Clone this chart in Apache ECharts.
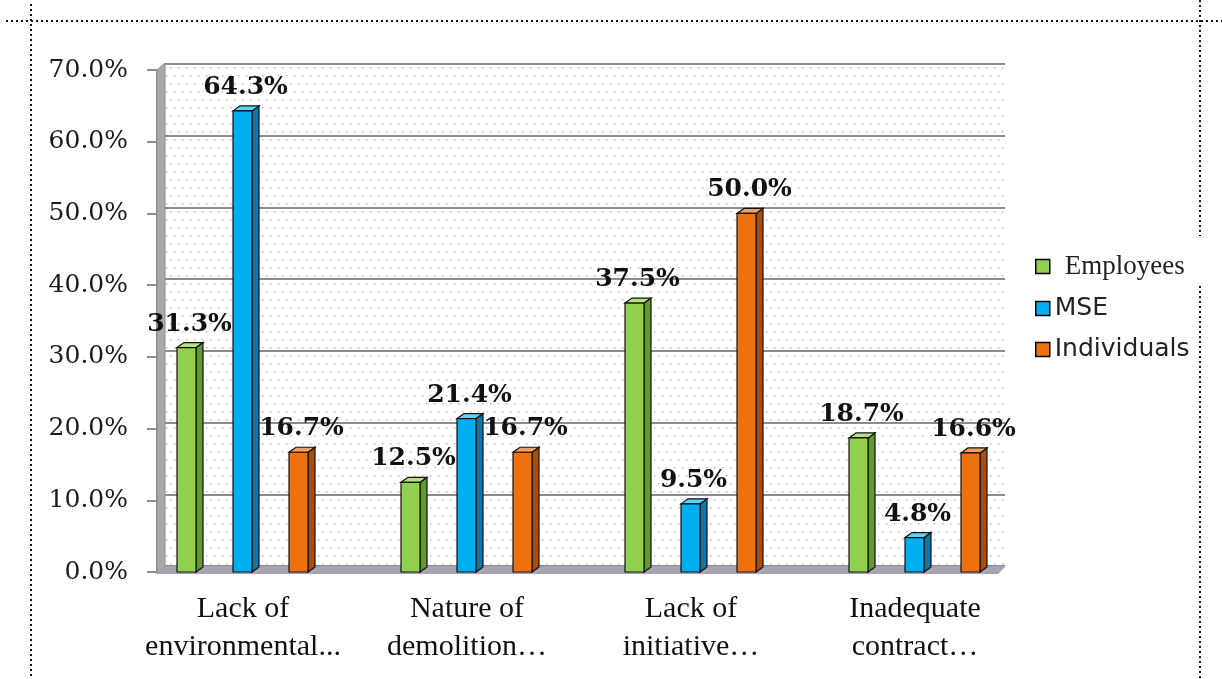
<!DOCTYPE html>
<html>
<head>
<meta charset="utf-8">
<script src="https://cdn.jsdelivr.net/npm/echarts@6/dist/echarts.min.js"></script>
<style>
  html, body { margin: 0; padding: 0; background: #fff; }
  #chart { width: 1222px; height: 679px; }
</style>
</head>
<body>
<div id="chart"></div>
<script>
// data
const categories = ["Lack of\nenvironmental...", "Nature of\ndemolition…", "Lack of\ninitiative…", "Inadequate\ncontract…"];
const seriesNames = ["Employees", "MSE", "Individuals"];
const employees = [31.3, 12.5, 37.5, 18.7];
const mse = [64.3, 21.4, 9.5, 4.8];
const individuals = [16.7, 16.7, 50.0, 16.6];
const yTicks = [0, 10, 20, 30, 40, 50, 60, 70];

// look of each series: front, side, top faces
const faces = [
  { front: "#92d050", side: "#5f9a2c", top: "#b4e27e" },
  { front: "#00b0f0", side: "#0a78a8", top: "#5fd0f6" },
  { front: "#ed7011", side: "#a94d08", top: "#f5a05c" }
];
const offsets = [-56, 0, 56];

// dotted pattern for the back wall
function dotPattern() {
  const c = document.createElement("canvas");
  c.width = 16; c.height = 16;
  const g = c.getContext("2d");
  g.fillStyle = "#fff";
  g.fillRect(0, 0, 16, 16);
  g.fillStyle = "rgba(205,150,170,0.75)";
  [[2, 3], [10, 3], [6, 11], [14, 11]].forEach(p => g.fillRect(p[0], p[1], 1.5, 1.5));
  return c;
}

function bar3d(k) {
  return function (params, api) {
    const i = api.value(0);
    const v = api.value(1);
    const p = api.coord([i, v]);
    const base = api.coord([i, 0]);
    const w = 19, d = 7, h = 5;
    const x0 = p[0] + offsets[k] - 10;
    const f = faces[k];
    const stroke = { stroke: "#111", lineWidth: 1.2 };
    return {
      type: "group",
      children: [
        { type: "polygon", shape: { points: [[x0 + w, p[1]], [x0 + w + d, p[1] - h], [x0 + w + d, base[1] - h], [x0 + w, base[1]]] },
          style: Object.assign({ fill: f.side }, stroke) },
        { type: "polygon", shape: { points: [[x0, p[1]], [x0 + d, p[1] - h], [x0 + w + d, p[1] - h], [x0 + w, p[1]]] },
          style: Object.assign({ fill: f.top }, stroke) },
        { type: "rect", shape: { x: x0, y: p[1], width: w, height: base[1] - p[1] },
          style: Object.assign({ fill: f.front }, stroke) },
        { type: "text", x: x0 + w / 2 + 3, y: p[1] - h - 6, z2: 10,
          style: { text: v.toFixed(1) + "%", align: "center", verticalAlign: "bottom",
            font: "bold 25px 'DejaVu Serif'", fill: "#111" } }
      ]
    };
  };
}

const seriesData = [employees, mse, individuals];

const chart = echarts.init(document.getElementById("chart"));
chart.setOption({
  animation: false,
  backgroundColor: "#fff",
  grid: [
    { left: 131, right: 195, top: 70, bottom: 107 },
    { left: 165, right: 217, top: 64, bottom: 113, show: true, borderWidth: 0,
      backgroundColor: { image: dotPattern(), repeat: "repeat" } }
  ],
  xAxis: [
    { type: "category", gridIndex: 0, data: categories,
      axisLine: { show: false }, axisTick: { show: false },
      axisLabel: { interval: 0, margin: 18, fontFamily: "Liberation Serif", fontSize: 30, lineHeight: 38, color: "#111" } },
    { type: "value", gridIndex: 1, min: 0, max: 1, show: false }
  ],
  yAxis: [
    { type: "value", gridIndex: 0, min: yTicks[0], max: yTicks[yTicks.length - 1], interval: 10,
      offset: -26,
      axisLine: { show: true, lineStyle: { color: "#8c8c8c", width: 2 } },
      axisTick: { show: true, length: 10, lineStyle: { color: "#8c8c8c", width: 2 } },
      splitLine: { show: false },
      axisLabel: { margin: 29, fontFamily: "DejaVu Serif", fontSize: 25, color: "#1a1a1a",
        formatter: v => v.toFixed(1) + "%" } },
    { type: "value", gridIndex: 1, min: yTicks[0], max: yTicks[yTicks.length - 1], interval: 10,
      axisLine: { show: false }, axisTick: { show: false }, axisLabel: { show: false },
      splitLine: { show: true, lineStyle: { color: "#8c8c8c", width: 2 } } }
  ],
  legend: {
    orient: "vertical", left: 1030, top: 248,
    itemWidth: 14, itemHeight: 14, itemGap: 16, icon: "rect",
    itemStyle: { borderColor: "#000", borderWidth: 1.5 },
    textStyle: { fontFamily: "DejaVu Sans", fontSize: 25, color: "#222" },
    data: [
      { name: "Employees", textStyle: { fontFamily: "Liberation Serif", fontSize: 27, padding: [0, 0, 0, 10] } },
      { name: "MSE" },
      { name: "Individuals" }
    ]
  },
  graphic: [
    // left wall
    { type: "polygon", z: 1, shape: { points: [[157, 70], [165, 63], [165, 566], [157, 574]] },
      style: { fill: "#a9a9a9", stroke: "#8c8c8c", lineWidth: 1 } },
    // floor
    { type: "polygon", z: 1, shape: { points: [[157, 574], [998, 574], [1006, 566], [165, 566]] },
      style: { fill: "#a7a3b3" } },
    // dotted frame
    { type: "line", z: 20, shape: { x1: 6, y1: 21, x2: 1222, y2: 21 }, style: { stroke: "#111", lineWidth: 2, lineDash: [2, 3] } },
    { type: "line", z: 20, shape: { x1: 31, y1: 4, x2: 31, y2: 679 }, style: { stroke: "#111", lineWidth: 2, lineDash: [2, 3] } },
    { type: "line", z: 20, shape: { x1: 1200, y1: 0, x2: 1200, y2: 236 }, style: { stroke: "#111", lineWidth: 2, lineDash: [2, 3] } },
    { type: "line", z: 20, shape: { x1: 1200, y1: 286, x2: 1200, y2: 679 }, style: { stroke: "#111", lineWidth: 2, lineDash: [2, 3] } }
  ],
  series: seriesNames.map((name, k) => ({
    name: name,
    type: "custom",
    xAxisIndex: 0,
    yAxisIndex: 0,
    z: 5,
    itemStyle: { color: faces[k].front },
    renderItem: bar3d(k),
    encode: { x: 0, y: 1 },
    data: seriesData[k].map((v, i) => [i, v])
  }))
});
</script>
</body>
</html>
